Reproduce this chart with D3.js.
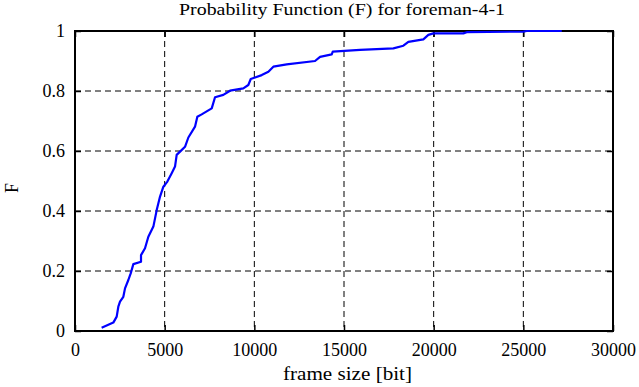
<!DOCTYPE html>
<html><head><meta charset="utf-8">
<script src="https://cdn.jsdelivr.net/npm/d3@7"></script>
<style>body{margin:0;background:#fff}</style>
</head><body>
<svg id="c" width="639" height="387"></svg>
<script>
const title = "Probability Function (F) for foreman-4-1";
const xLabel = "frame size [bit]";
const yLabel = "F";
const xTicks = [0,5000,10000,15000,20000,25000,30000];
const yTicks = [0,0.2,0.4,0.6,0.8,1];
const frameSize = [1485,2137,2325,2416,2510,2695,2789,2975,3106,3254,3681,3681,3904,4090,4370,4556,4742,4928,5150,5392,5577,5670,5856,6135,6321,6692,6822,7063,7624,7808,8271,8644,9386,9665,9800,10412,10784,11060,11806,13385,13665,14317,14373,15895,17752,18310,18589,19425,19703,19982,21655,21841,25000,25190,27143];
const probF = [0.011,0.028,0.048,0.081,0.098,0.114,0.142,0.17,0.192,0.223,0.231,0.253,0.276,0.314,0.348,0.403,0.448,0.481,0.498,0.526,0.548,0.587,0.598,0.614,0.645,0.681,0.714,0.722,0.742,0.779,0.787,0.801,0.809,0.82,0.84,0.853,0.864,0.881,0.889,0.9,0.914,0.922,0.931,0.937,0.942,0.951,0.964,0.972,0.987,0.992,0.992,0.996,0.998,1.0,1.0];

const FONT = "Liberation Serif";
const svg = d3.select("#c");
const L=75,R=613,T=31,B=331;
const x = d3.scaleLinear().domain([0,30000]).range([L,R]);
const y = d3.scaleLinear().domain([0,1]).range([B,T]);

const g = svg.append("g");
xTicks.slice(1,-1).forEach(v=>g.append("line").attr("x1",x(v)).attr("x2",x(v)).attr("y1",T).attr("y2",B).attr("stroke","#000").attr("stroke-width",1).attr("stroke-dasharray","6,4"));
yTicks.slice(1,-1).forEach(v=>g.append("line").attr("x1",L).attr("x2",R).attr("y1",y(v)).attr("y2",y(v)).attr("stroke","#000").attr("stroke-width",1).attr("stroke-dasharray","6,4"));

const axB = d3.axisBottom(x).tickValues(xTicks).tickSize(-6).tickPadding(12).tickFormat(d3.format("d"));
const axT = d3.axisTop(x).tickValues(xTicks).tickSize(-6).tickFormat("");
const axLft = d3.axisLeft(y).tickValues(yTicks).tickSize(-6).tickPadding(10).tickFormat(d=>d3.format("")(d));
const axRt = d3.axisRight(y).tickValues(yTicks).tickSize(-6).tickFormat("");
function style(sel){sel.attr("font-family",FONT).attr("font-size",18);sel.select(".domain").remove();sel.selectAll(".tick line").attr("stroke","#000").attr("stroke-width",1.5);sel.selectAll("text").attr("fill","#000");}
svg.append("g").attr("transform",`translate(0,${B})`).call(axB).call(style);
svg.append("g").attr("transform",`translate(0,${T})`).call(axT).call(style);
svg.append("g").attr("transform",`translate(${L},0)`).call(axLft).call(style);
svg.append("g").attr("transform",`translate(${R},0)`).call(axRt).call(style);

svg.append("rect").attr("x",L).attr("y",T).attr("width",R-L).attr("height",B-T).attr("fill","none").attr("stroke","#000").attr("stroke-width",2);

const line = d3.line().x((d,i)=>x(frameSize[i])).y((d,i)=>y(probF[i]));
svg.append("path").datum(probF).attr("d",line).attr("fill","none").attr("stroke","#0000ff").attr("stroke-width",2.2).attr("stroke-linejoin","round");

svg.append("text").attr("x",342).attr("y",15).attr("text-anchor","middle").attr("font-family",FONT).attr("font-size",17).attr("textLength",326).attr("lengthAdjust","spacingAndGlyphs").text(title);
svg.append("text").attr("x",347.5).attr("y",380).attr("text-anchor","middle").attr("font-family",FONT).attr("font-size",19).attr("textLength",129).attr("lengthAdjust","spacingAndGlyphs").text(xLabel);
svg.append("text").attr("transform","translate(18,188) rotate(-90)").attr("text-anchor","middle").attr("font-family",FONT).attr("font-size",18).text(yLabel);
</script>
</body></html>
